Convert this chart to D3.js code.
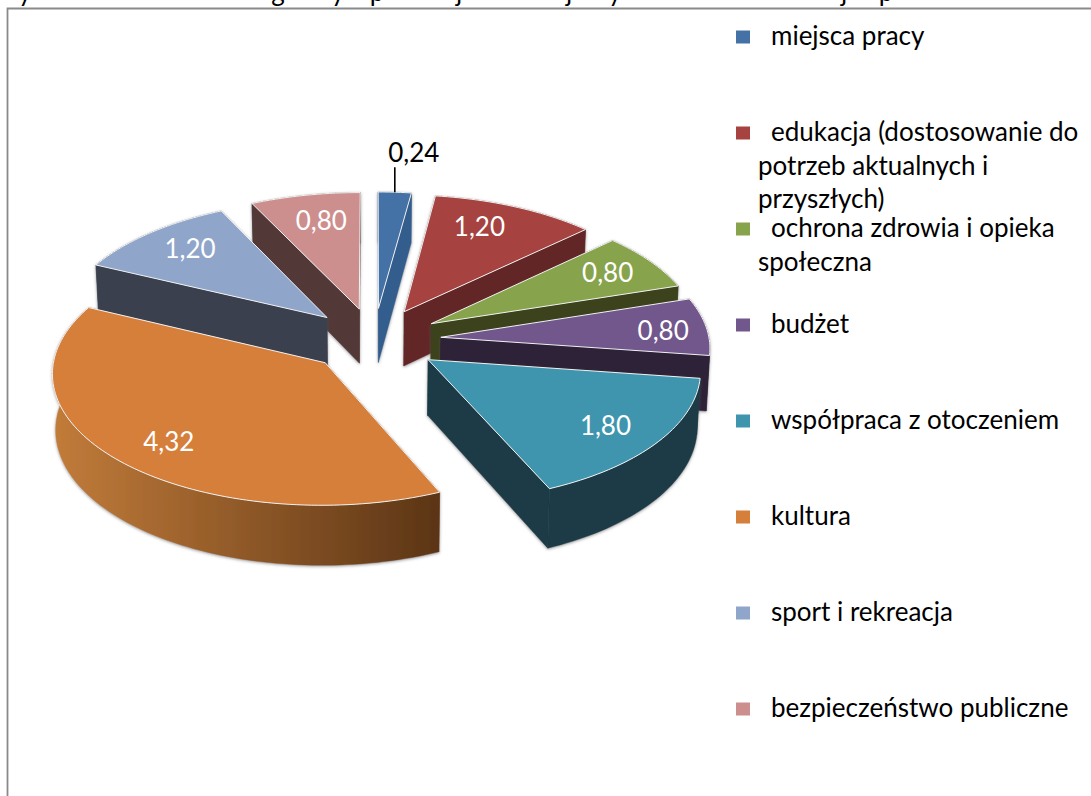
<!DOCTYPE html>
<html><head><meta charset="utf-8">
<script src="https://d3js.org/d3.v7.min.js"></script>
<style>
html,body{margin:0;padding:0;background:#fff;overflow:hidden}
text{font-family:Lato,"Open Sans",sans-serif}
</style></head><body>
<svg id="c" width="1091" height="796"></svg>
<script>
const categories = ["miejsca pracy","edukacja (dostosowanie do","ochrona zdrowia i opieka","budżet","współpraca z otoczeniem","kultura","sport i rekreacja","bezpieczeństwo publiczne"];
const categoryContinuation = [[],["potrzeb aktualnych i","przyszłych)"],["społeczna"],[],[],[],[],[]];
const values = [0.24,1.20,0.80,0.80,1.80,4.32,1.20,0.80];
const valueLabels = ["0,24","1,20","0,80","0,80","1,80","4,32","1,20","0,80"];
const topColors = ["#4471a6","#a64340","#87a34c","#71578c","#3f95ae","#d67f3b","#8fa5ca","#cd8f8e"];
const sideColors = ["#335d8c","#642727","#3a431d","#2d2138","#1a3b47","#8a5528","#3b4150","#523838"];
const cutOffGlyphs = ["y","g","y","p","j","j","y","j","p"];
const cutOffGlyphX = [25,278,338,377,459,569,615,844,886];
const labelNudgeX = [0,-15,0,10,-4,8,6,6];
const labelNudgeY = [0,0,0,2,0,2,0,4];

const svg = d3.select("#c"), W = 1091, H = 796;
const defs = svg.append("defs");
const sh = defs.append("filter").attr("id","halo").attr("x","-10%").attr("y","-10%").attr("width","120%").attr("height","125%");
sh.append("feDropShadow").attr("dx",0).attr("dy",1).attr("stdDeviation",1.6).attr("flood-color","#555").attr("flood-opacity",0.6);
const frameBlur = defs.append("filter").attr("id","soft");
frameBlur.append("feGaussianBlur").attr("stdDeviation",0.4);
defs.append("clipPath").attr("id","topClip").append("rect").attr("x",0).attr("y",0).attr("width",W).attr("height",7);

// cropped line of text above the frame
svg.append("g").attr("clip-path","url(#topClip)").selectAll("text").data(cutOffGlyphs).join("text")
  .attr("x",(d,i)=>cutOffGlyphX[i]).attr("y",1).attr("text-anchor","middle").attr("font-size",26).attr("fill","#000").text(d=>d);

// frame
svg.append("path").attr("d",`M7.5,796V8.5H${W}`).attr("fill","none").attr("stroke","#8a8a8a").attr("stroke-width",1.8).attr("filter","url(#soft)");

// projection: tilted disc with slight perspective
const cx=374, cy=340, Rx=268.5, Ry=129, persp=0.071, explode=0.25, depth=55, shrink=0.99;
const sx=d3.scaleLinear().domain([-1,1]).range([cx-Rx,cx+Rx]);
const sy=d3.scaleLinear().domain([-1,1]).range([cy+Ry,cy-Ry]);
const project=(u,v)=>{const s=1/(1+persp*v);return {x:sx(u*s),y:sy(v*s),s};};
const down=p=>({x:cx+(p.x-cx)*shrink,y:p.y+depth*p.s});

const arcs=d3.pie().sort(null).value(d=>d)(values);
const slices=arcs.map((a,i)=>{
  const mid=(a.startAngle+a.endAngle)/2, eu=explode*Math.sin(mid), ev=explode*Math.cos(mid);
  const pt=(ang,r)=>project(eu+r*Math.sin(ang),ev+r*Math.cos(ang));
  const n=Math.max(6,Math.round((a.endAngle-a.startAngle)*40));
  const rim=d3.range(n+1).map(k=>pt(a.startAngle+(a.endAngle-a.startAngle)*k/n,1));
  return {i,mid,ev,pt,rim,apex:pt(0,0)};
});
const line=d3.line().x(d=>d.x).y(d=>d.y);
const orangeGrad=defs.append("linearGradient").attr("id","wallGrad").attr("gradientUnits","userSpaceOnUse")
  .attr("x1",sx(-1.2)).attr("x2",sx(0.26)).attr("y1",0).attr("y2",0);
orangeGrad.append("stop").attr("offset",0).attr("stop-color","#c27c3a");
orangeGrad.append("stop").attr("offset",1).attr("stop-color","#5a3415");

const order=slices.slice().sort((a,b)=>d3.descending(a.ev,b.ev));
const pie=svg.append("g");
order.forEach(s=>{
  const g=pie.append("g");
  const walls=g.append("g").attr("filter","url(#halo)");
  const A=s.apex, P0=s.rim[0], PN=s.rim[s.rim.length-1];
  const faces=[
    {pts:[A,P0,down(P0),down(A)],key:(A.y+P0.y)/2,fill:sideColors[s.i]},
    {pts:[A,PN,down(PN),down(A)],key:(A.y+PN.y)/2,fill:sideColors[s.i]},
    {pts:s.rim.concat(s.rim.slice().reverse().map(down)),key:s.pt(s.mid,1).y,
      fill:s.i===5?"url(#wallGrad)":sideColors[s.i]}
  ].sort((a,b)=>a.key-b.key);
  faces.forEach(f=>walls.append("path").attr("d",line(f.pts)+"Z").attr("fill",f.fill).attr("stroke",f.fill).attr("stroke-width",0.4));
  g.append("path").attr("d",line([A,...s.rim])+"Z").attr("fill",topColors[s.i]).attr("stroke","#f2f2f2").attr("stroke-width",1);
});

// value labels
const labelR=0.8;
slices.forEach(s=>{
  if(s.i===0){
    const p=s.pt(s.mid,1);
    svg.append("line").attr("x1",p.x).attr("x2",p.x).attr("y1",p.y).attr("y2",p.y-25).attr("stroke","#000").attr("stroke-width",1.6);
    svg.append("text").attr("x",p.x+19).attr("y",p.y-30).attr("text-anchor","middle").attr("font-size",26).attr("fill","#000").text(valueLabels[0]);
  } else {
    const p=s.pt(s.mid,labelR);
    svg.append("text").attr("x",p.x+labelNudgeX[s.i]).attr("y",p.y+9+labelNudgeY[s.i]).attr("text-anchor","middle").attr("font-size",26).attr("fill","#fff").text(valueLabels[s.i]);
  }
});

// legend
const ly=d3.scaleLinear().domain([0,1]).range([37,133]);
const lg=svg.append("g");
categories.forEach((c,i)=>{
  const y=ly(i);
  lg.append("rect").attr("x",736).attr("y",y-6.5).attr("width",14).attr("height",13).attr("fill",topColors[i]);
  lg.append("text").attr("x",771).attr("y",y+8).attr("font-size",26).attr("fill","#000").text(c);
  categoryContinuation[i].forEach((t,k)=>
    lg.append("text").attr("x",758).attr("y",y+8+33.5*(k+1)).attr("font-size",26).attr("fill","#000").text(t));
});
</script></body></html>
